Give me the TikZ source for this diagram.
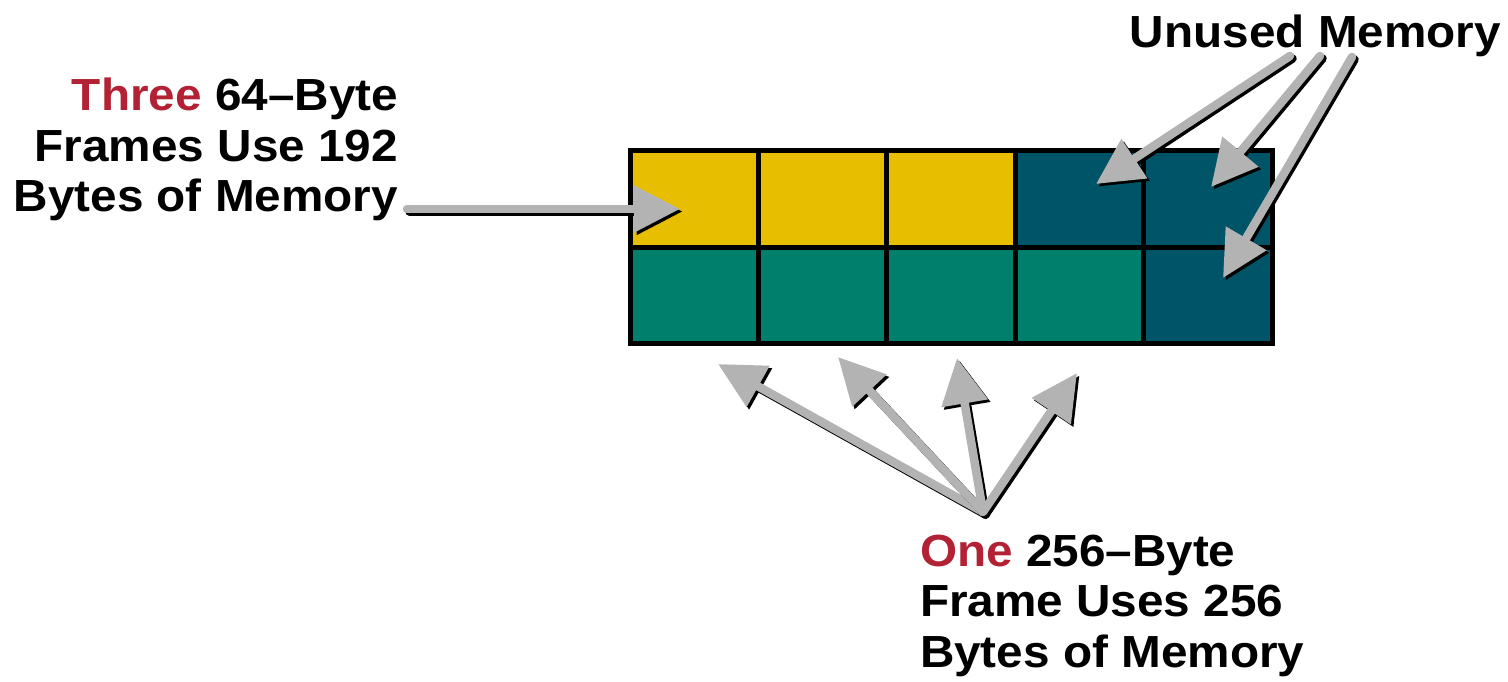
\documentclass[tikz,border=0pt]{standalone}
\usepackage{fontspec}
\setmainfont[FakeStretch=1.06]{Liberation Sans}
\usetikzlibrary{arrows.meta}
\definecolor{cyel}{RGB}{232,190,0}
\definecolor{cteal}{RGB}{0,128,108}
\definecolor{cdark}{RGB}{0,84,104}
\definecolor{cgray}{RGB}{179,179,179}
\definecolor{cred}{RGB}{178,34,52}
\tikzset{
  cell/.style={draw=black, line width=5pt, minimum width=128.4pt, minimum height=96.5pt, inner sep=0pt, outer sep=0pt},
  lbl/.style={font=\bfseries\fontsize{45}{50.5}\selectfont, inner sep=0pt, outer sep=0pt},
  arrowbase/.style={line width=8.5pt, line cap=round, -{Triangle[length=46pt,width=45pt]}},
  arrowshadow/.style={arrowbase, draw=black, fill=black},
  arrowmain/.style={arrowbase, draw=cgray, fill=cgray},
}
\newcommand\shadarrow[2]{%
  \draw[arrowshadow] ([shift={(2.5,2.5)}]#1) -- ([shift={(2.5,2.5)}]#2);
  \draw[arrowmain] (#1) -- (#2);}
\begin{document}
\begin{tikzpicture}[x=1pt,y=-1pt]
\useasboundingbox (0,0) rectangle (1508,681);
% grid cells
\node[cell, fill=cyel]  (a1) at (694.2,199) {};
\node[cell, fill=cyel]  (a2) at (822.6,199) {};
\node[cell, fill=cyel]  (a3) at (951.0,199) {};
\node[cell, fill=cdark] (a4) at (1079.4,199) {};
\node[cell, fill=cdark] (a5) at (1207.8,199) {};
\node[cell, fill=cteal] (b1) at (694.2,295.5) {};
\node[cell, fill=cteal] (b2) at (822.6,295.5) {};
\node[cell, fill=cteal] (b3) at (951.0,295.5) {};
\node[cell, fill=cteal] (b4) at (1079.4,295.5) {};
\node[cell, fill=cdark] (b5) at (1207.8,295.5) {};
% labels
\node[lbl, anchor=north east, align=right] (left) at (398,78)
  {\textcolor{cred}{Three} 64–Byte\\Frames Use 192\\Bytes of Memory};
\node[lbl, anchor=north east] (unused) at (1501,15) {Unused Memory};
\node[lbl, anchor=north west, align=left] (bottom) at (920,535)
  {\textcolor{cred}{One} 256–Byte\\Frame Uses 256\\Bytes of Memory};
% arrow end points
\coordinate (ls) at (407,209);
\coordinate (lt) at (680,209);
\coordinate (u1s) at (1290,56);
\coordinate (u1t) at (1096,184);
\coordinate (u2s) at (1320,56);
\coordinate (u2t) at (1211,187);
\coordinate (u3s) at (1352,57);
\coordinate (u3t) at (1223,278);
\coordinate (bs) at (983,512);
\coordinate (bt1) at (718,364);
\coordinate (bt2) at (838,357);
\coordinate (bt3) at (957,358);
\coordinate (bt4) at (1077,373);
% arrows
\shadarrow{ls}{lt}
\shadarrow{u1s}{u1t}
\shadarrow{u2s}{u2t}
\shadarrow{u3s}{u3t}
\shadarrow{bs}{bt1}
\shadarrow{bs}{bt2}
\shadarrow{bs}{bt3}
\shadarrow{bs}{bt4}
\end{tikzpicture}
\end{document}
